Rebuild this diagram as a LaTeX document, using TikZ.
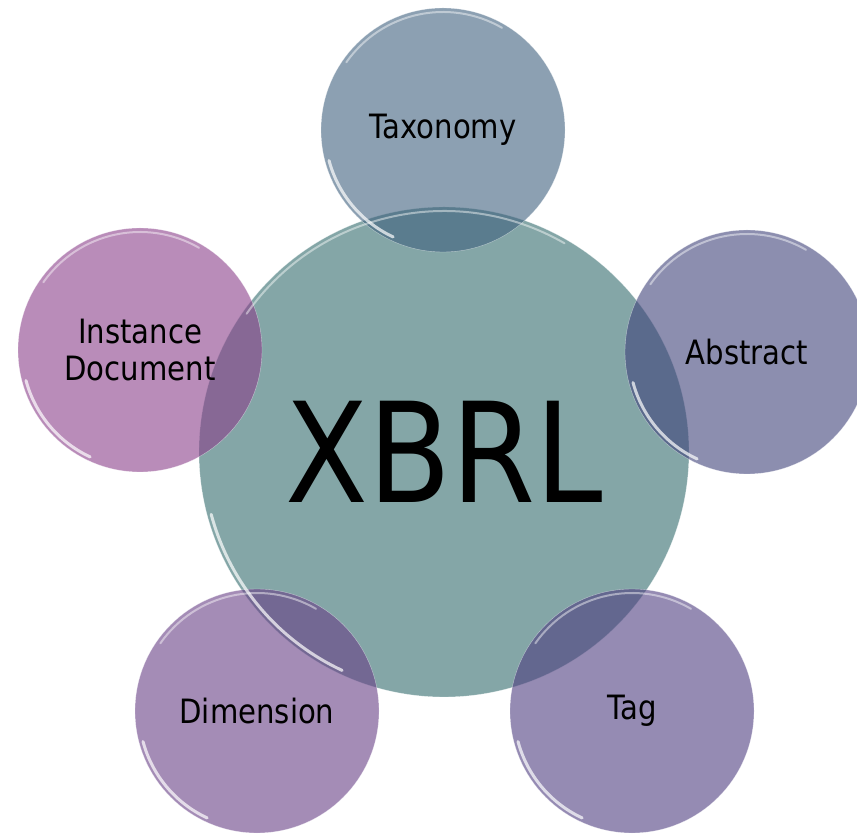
\documentclass[tikz,border=0pt]{standalone}
\usepackage{fontspec}
\setmainfont{DejaVu Sans}[FakeStretch=0.87]
\definecolor{hubteal}{RGB}{132,166,167}
\definecolor{taxblue}{RGB}{63,96,126}
\definecolor{absblue}{RGB}{63,66,122}
\definecolor{instpink}{RGB}{138,63,138}
\definecolor{dimpurple}{RGB}{104,63,134}
\definecolor{tagpurple}{RGB}{78,61,128}

\begin{document}
\begin{tikzpicture}[x=1pt, y=1pt,
      every node/.style = {shape=circle, inner sep=0pt, text=black},
      hub/.style = {fill=hubteal, draw=white, draw opacity=.5,
        minimum size=490pt, font=\fontsize{139}{150}\selectfont},
      bubble/.style = {fill=#1, fill opacity=.6, text opacity=1,
        draw=white, draw opacity=.5, align=center,
        minimum size=244pt, font=\fontsize{33.5}{37}\selectfont}]
  \useasboundingbox (0,0) rectangle (857,833);
  \node[hub] (xbrl) at (444,381) {XBRL};
  \node[bubble=taxblue] (taxonomy) at (443,703) {Taxonomy};
  \node[bubble=absblue] (abstract) at (747,481) {Abstract};
  \node[bubble=instpink] (instance) at (140,483) {Instance\\Document};
  \node[bubble=dimpurple] (dimension) at (257,122) {Dimension};
  \node[bubble=tagpurple] (tag) at (632,122) {Tag};
  % glossy rims
  \foreach \n/\r in {xbrl/241, taxonomy/118, abstract/118,
      instance/118, dimension/118, tag/118} {
    \draw[white, opacity=.45, line width=2pt, line cap=round]
      (\n.center) ++(60:\r) arc (60:145:\r);
    \draw[white, opacity=.7, line width=3pt, line cap=round]
      (\n.center) ++(195:\r) arc (195:245:\r);
  }
\end{tikzpicture}
\end{document}
